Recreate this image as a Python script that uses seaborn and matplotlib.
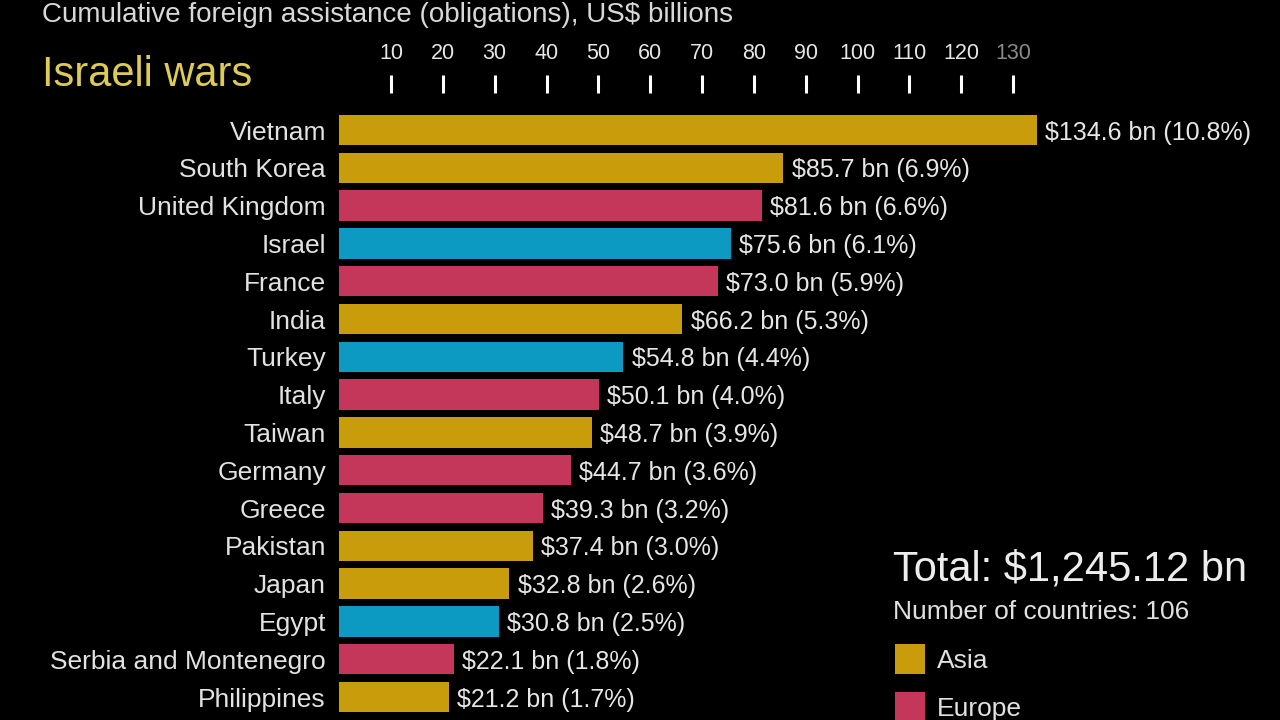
import matplotlib
matplotlib.use("Agg")
import matplotlib.pyplot as plt
import seaborn as sns
import pandas as pd
from matplotlib.patches import Rectangle

countries = ["Vietnam", "South Korea", "United Kingdom", "Israel", "France", "India",
             "Turkey", "Italy", "Taiwan", "Germany", "Greece", "Pakistan", "Japan",
             "Egypt", "Serbia and Montenegro", "Philippines"]
values = [134.6, 85.7, 81.6, 75.6, 73.0, 66.2, 54.8, 50.1, 48.7, 44.7, 39.3, 37.4,
          32.8, 30.8, 22.1, 21.2]
shares = [10.8, 6.9, 6.6, 6.1, 5.9, 5.3, 4.4, 4.0, 3.9, 3.6, 3.2, 3.0, 2.6, 2.5, 1.8, 1.7]
regions = ["Asia", "Asia", "Europe", "Middle East", "Europe", "Asia", "Middle East",
           "Europe", "Asia", "Europe", "Europe", "Asia", "Asia", "Middle East",
           "Europe", "Asia"]
tick_values = [10, 20, 30, 40, 50, 60, 70, 80, 90, 100, 110, 120, 130]
legend_regions = ["Asia", "Europe"]
palette = {"Asia": "#C99C0C", "Europe": "#C4375B", "Middle East": "#0C9AC3"}

df = pd.DataFrame({"country": countries, "value": values, "region": regions})

sns.set_theme(style="white")
plt.rcParams["font.family"] = ["Liberation Sans", "DejaVu Sans"]

W, H = 1280, 720
fig = plt.figure(figsize=(12.8, 7.2), dpi=100, facecolor="black")
px_per_unit = (1013 - 391) / 120.0
x0 = 391 - 10 * px_per_unit
ax_top_px = 93
ax = fig.add_axes([x0 / W, 0, (W - x0) / W, (H - ax_top_px) / H])
ax.set_facecolor("black")

sns.barplot(data=df, x="value", y="country", hue="region", palette=palette,
            dodge=False, width=0.8, orient="h", legend=False, ax=ax,
            saturation=1, edgecolor="none")

ax.set_xlim(0, (W - x0) / px_per_unit)
row_h = 37.8
ax.set_ylim((H - 130) / row_h, (ax_top_px - 130) / row_h)

for s in ax.spines.values():
    s.set_visible(False)
ax.xaxis.tick_top()
ax.set_xticks(tick_values)
ax.set_xticklabels([str(t) for t in tick_values])
ax.tick_params(axis="x", colors="white", labelsize=15.5, length=13, width=2.2,
               pad=8, direction="out", labelcolor="#E6E6E6")
# fade the last tick
ax.get_xticklabels()[-1].set_color("#8A8A8A")
ax.xaxis.get_major_ticks()[-1].tick2line.set_color("#8A8A8A")
ax.set_xlabel("")
ax.set_ylabel("")
ax.tick_params(axis="y", length=0, pad=9.5, labelsize=19, labelcolor="#E2E2E2")

for i, (v, s) in enumerate(zip(values, shares)):
    ax.annotate(f"${v:.1f} bn ({s:.1f}%)", xy=(v, i), xytext=(6, 0),
                textcoords="offset points", va="center_baseline", ha="left",
                fontsize=18, color="#E6E6E6")

fig.text(42 / W, 1 - 22 / H, "Cumulative foreign assistance (obligations), US$ billions",
         color="#D8D8D8", fontsize=20, va="baseline", ha="left")
fig.text(42 / W, 1 - 86 / H, "Israeli wars", color="#DDCB55", fontsize=30,
         va="baseline", ha="left")
fig.text(893 / W, 1 - 581 / H, "Total: $1,245.12 bn", color="#EDEDED", fontsize=30,
         va="baseline", ha="left")
fig.text(893 / W, 1 - 619 / H, "Number of countries: 106", color="#E0E0E0", fontsize=19,
         va="baseline", ha="left")

for k, reg in enumerate(legend_regions):
    top = 644 + k * 48
    fig.patches.append(Rectangle((895 / W, 1 - (top + 30) / H), 30 / W, 30 / H,
                                 transform=fig.transFigure, facecolor=palette[reg],
                                 edgecolor="none"))
    fig.text(937 / W, 1 - (top + 24) / H, reg, color="#E0E0E0", fontsize=19,
             va="baseline", ha="left")

fig.savefig("out.png", dpi=100, facecolor="black")
